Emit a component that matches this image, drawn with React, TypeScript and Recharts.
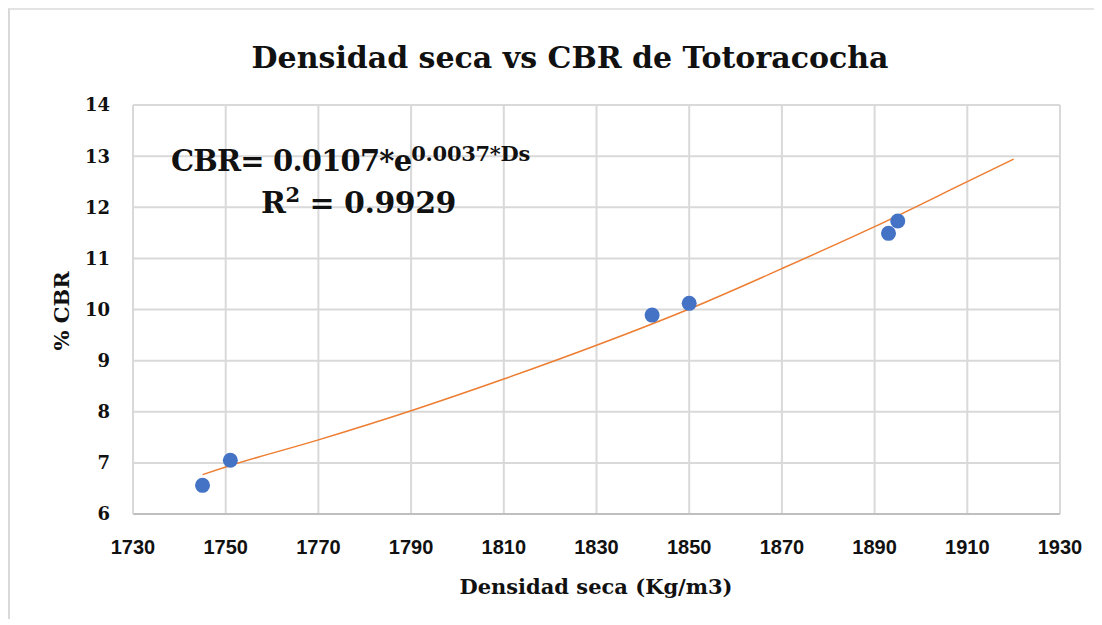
import { CartesianGrid, ComposedChart, Line, Scatter, XAxis, YAxis } from "recharts"

// measured points: dry density (kg/m3) vs CBR (%)
const densidad = [1745, 1751, 1842, 1850, 1893, 1895]
const cbr = [6.56, 7.05, 9.89, 10.12, 11.49, 11.73]

// exponential trendline
const trendDensidad = [1745, 1750, 1770, 1790, 1810, 1830, 1850, 1870, 1890, 1910, 1920]
const trendCbr = [6.77, 6.92, 7.45, 8.02, 8.64, 9.3, 10.01, 10.8, 11.62, 12.5, 12.94]

const xTicks = [1730, 1750, 1770, 1790, 1810, 1830, 1850, 1870, 1890, 1910, 1930]
const yTicks = [6, 7, 8, 9, 10, 11, 12, 13, 14]

const titulo = "Densidad seca vs CBR de Totoracocha"
const tituloX = "Densidad seca (Kg/m3)"
const tituloY = "% CBR"

const puntos = densidad.map((d, i) => ({ ds: d, cbr: cbr[i] }))
const tendencia = trendDensidad.map((d, i) => ({ ds: d, cbr: trendCbr[i] }))

const serif = "'DejaVu Serif', serif"

const Punto = (props: any) => <circle cx={props.cx} cy={props.cy} r={7.5} fill="#4472C4" />

export default function App() {
  return (
    <div
      style={{
        position: "relative",
        width: 1086,
        height: 609,
        borderLeft: "2px solid #d9d9d9",
        borderTop: "2px solid #e3e3e3",
        background: "#fff",
      }}
    >
      <ComposedChart width={1086} height={609} margin={{ top: 95, right: 36, bottom: 45, left: 63 }}>
        <CartesianGrid stroke="#d9d9d9" strokeWidth={2} />
        <XAxis
          dataKey="ds"
          type="number"
          domain={[1730, 1930]}
          ticks={xTicks}
          height={60}
          tickLine={false}
          tickSize={0}
          tickMargin={26}
          axisLine={{ stroke: "#bfbfbf", strokeWidth: 2 }}
          tick={{ fill: "#111", fontFamily: "'Liberation Sans', Arial, sans-serif", fontWeight: 700, fontSize: 20 }}
          allowDuplicatedCategory={false}
        />
        <YAxis
          dataKey="cbr"
          type="number"
          domain={[6, 14]}
          ticks={yTicks}
          width={60}
          tickLine={false}
          tickSize={0}
          tickMargin={23}
          axisLine={{ stroke: "#d9d9d9", strokeWidth: 2 }}
          tick={{ fill: "#111", fontFamily: serif, fontWeight: 700, fontSize: 18 }}
        />
        <Scatter data={puntos} dataKey="cbr" shape={<Punto />} isAnimationActive={false} />
        <Line
          data={tendencia}
          dataKey="cbr"
          type="monotone"
          stroke="#ED7D31"
          strokeWidth={1.5}
          dot={false}
          activeDot={false}
          isAnimationActive={false}
        />
      </ComposedChart>
      <svg
        width={1086}
        height={609}
        style={{ position: "absolute", left: 0, top: 0, pointerEvents: "none" }}
        fontFamily={serif}
        fontWeight={700}
        fill="#111"
      >
        <text x={560} y={58} textAnchor="middle" fontSize={30}>
          {titulo}
        </text>
        <text x={161} y={161} fontSize={29} letterSpacing={-0.8}>
          CBR= 0.0107*e
          <tspan fontSize={21} dy={-10} letterSpacing={-0.3}>
            0.0037*Ds
          </tspan>
        </text>
        <text x={251} y={203} fontSize={30} letterSpacing={-0.5}>
          R<tspan fontSize={21} dy={-11}>2</tspan>
          <tspan dy={11}> = 0.9929</tspan>
        </text>
        <text x={586} y={584} textAnchor="middle" fontSize={21}>
          {tituloX}
        </text>
        <text x={59} y={301} textAnchor="middle" fontSize={21} transform="rotate(-90 59 301)">
          {tituloY}
        </text>
      </svg>
    </div>
  )
}
